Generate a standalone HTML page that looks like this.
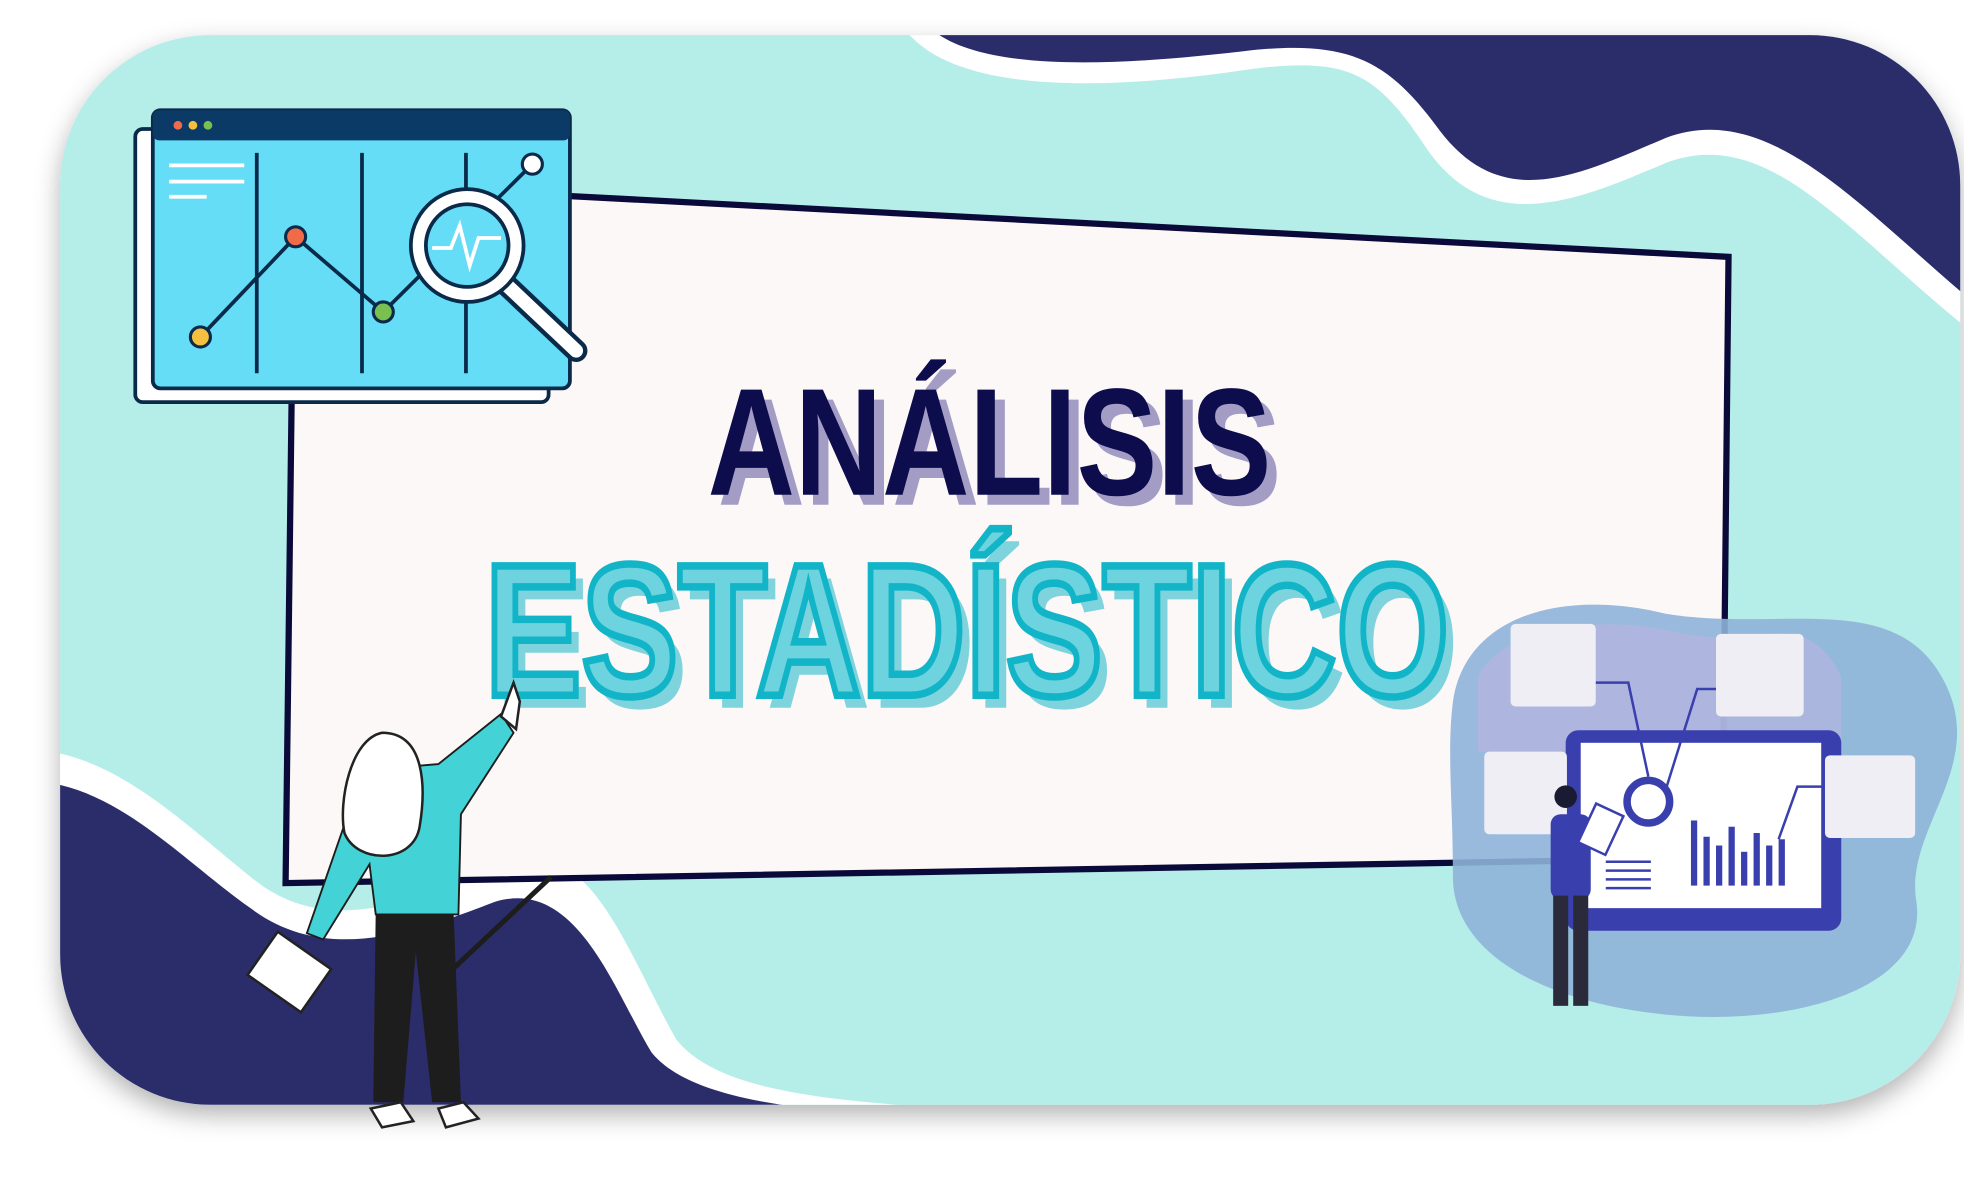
<!DOCTYPE html>
<html><head><meta charset="utf-8"><style>
html,body{margin:0;padding:0;background:#fff;width:1964px;height:1185px;overflow:hidden}
svg{display:block}
</style></head><body>
<svg width="1964" height="1185" viewBox="0 0 1568 946" xmlns="http://www.w3.org/2000/svg">
<defs>
<filter id="sh" x="-10%" y="-10%" width="120%" height="130%"><feDropShadow dx="0" dy="8" stdDeviation="10" flood-color="#000" flood-opacity="0.3"/></filter>
<clipPath id="card"><rect x="48" y="28" width="1517" height="854" rx="120"/></clipPath>
</defs>
<rect width="1568" height="946" fill="#fff"/>
<rect x="48" y="28" width="1517" height="854" rx="120" fill="#b5ede9" filter="url(#sh)"/>
<g clip-path="url(#card)">
<path d="M720,20 C760,80 900,70 1000,55 C1080,45 1100,60 1140,120 C1190,190 1260,160 1330,130 C1410,100 1470,180 1568,260 L1568,20 Z" fill="#fff"/>
<path d="M740,20 C780,60 900,52 1000,40 C1080,32 1110,50 1150,105 C1200,170 1260,140 1330,110 C1410,80 1480,160 1568,235 L1568,20 Z" fill="#2b2d6b"/>
<path d="M40,600 C100,610 150,660 200,700 C260,750 330,720 400,690 C470,660 500,760 540,830 C580,880 700,880 830,890 L40,890 Z" fill="#fff"/>
<path d="M40,625 C100,635 150,690 200,725 C260,770 330,745 395,720 C460,700 490,790 520,840 C560,890 700,890 830,895 L40,895 Z" fill="#2b2d6b"/>
</g>
<polygon points="235,145 1380,205 1375,685 228,705" fill="#fcf8f7" stroke="#0a0a3a" stroke-width="5"/>
<g font-family="Liberation Sans, sans-serif" font-weight="bold" text-anchor="middle">
<text x="798" y="403" font-size="122" fill="#a39cc5" textLength="450" lengthAdjust="spacingAndGlyphs">ANÁLISIS</text>
<text x="790" y="395" font-size="122" fill="#0d0d4d" textLength="450" lengthAdjust="spacingAndGlyphs">ANÁLISIS</text>
<text x="780" y="565" font-size="150" fill="#7fd3dd" textLength="770" lengthAdjust="spacingAndGlyphs">ESTADÍSTICO</text>
<text x="772" y="555" font-size="150" fill="#6dd3df" stroke="#12b5c8" stroke-width="6" textLength="770" lengthAdjust="spacingAndGlyphs">ESTADÍSTICO</text>
</g>
<!-- browser chart illustration -->
<g>
<rect x="108" y="103" width="330" height="218" rx="6" fill="#fff" stroke="#0a2a4a" stroke-width="3"/>
<rect x="122" y="88" width="333" height="222" rx="6" fill="#66ddf6" stroke="#0a2a4a" stroke-width="3"/>
<rect x="122" y="88" width="333" height="24" rx="5" fill="#0b3a66"/>
<circle cx="142" cy="100" r="3.5" fill="#f06b4a"/><circle cx="154" cy="100" r="3.5" fill="#f5c040"/><circle cx="166" cy="100" r="3.5" fill="#7ac050"/>
<g stroke="#fff" stroke-width="3"><line x1="135" y1="132" x2="195" y2="132"/><line x1="135" y1="145" x2="195" y2="145"/><line x1="135" y1="157" x2="165" y2="157"/></g>
<g stroke="#0a2a4a" stroke-width="3"><line x1="205" y1="122" x2="205" y2="298"/><line x1="289" y1="122" x2="289" y2="298"/><line x1="372" y1="122" x2="372" y2="298"/></g>
<polyline points="160,269 236,189 306,249 425,131" fill="none" stroke="#0a2a4a" stroke-width="3"/>
<circle cx="160" cy="269" r="8" fill="#f5c040" stroke="#0a2a4a" stroke-width="2.5"/>
<circle cx="236" cy="189" r="8" fill="#f06b4a" stroke="#0a2a4a" stroke-width="2.5"/>
<circle cx="306" cy="249" r="8" fill="#7ac050" stroke="#0a2a4a" stroke-width="2.5"/>
<circle cx="425" cy="131" r="8" fill="#fff" stroke="#0a2a4a" stroke-width="2.5"/>
<line x1="405" y1="228" x2="460" y2="280" stroke="#0a2a4a" stroke-width="18" stroke-linecap="round"/>
<line x1="405" y1="228" x2="460" y2="280" stroke="#fff" stroke-width="11" stroke-linecap="round"/>
<circle cx="373" cy="196" r="45" fill="#fff" stroke="#0a2a4a" stroke-width="3"/>
<circle cx="373" cy="196" r="33" fill="#66ddf6" stroke="#0a2a4a" stroke-width="3"/>
<polyline points="345,198 360,198 367,180 375,212 382,190 400,190" fill="none" stroke="#fff" stroke-width="3"/>
</g>
<!-- dashboard illustration -->
<g>
<path d="M1160,560 C1170,490 1250,470 1330,490 C1420,505 1510,470 1550,540 C1590,610 1520,660 1530,720 C1540,790 1430,820 1330,810 C1230,800 1160,760 1160,700 C1160,640 1155,600 1160,560 Z" fill="#8eb3d8" opacity="0.9"/>
<path d="M1180,540 C1200,500 1280,490 1340,505 C1400,520 1440,480 1470,540 L1470,600 L1180,600 Z" fill="#b7b5e0" opacity="0.7"/>
<rect x="1250" y="583" width="220" height="160" rx="10" fill="#3a3fae"/>
<rect x="1262" y="593" width="192" height="132" fill="#fff"/>
<circle cx="1316" cy="640" r="17" fill="none" stroke="#3a3fae" stroke-width="6"/>
<g fill="#3a3fae"><rect x="1350" y="655" width="5" height="52"/><rect x="1360" y="668" width="5" height="39"/><rect x="1370" y="675" width="5" height="32"/><rect x="1380" y="660" width="5" height="47"/><rect x="1390" y="680" width="5" height="27"/><rect x="1400" y="665" width="5" height="42"/><rect x="1410" y="675" width="5" height="32"/><rect x="1420" y="670" width="5" height="37"/></g>
<g stroke="#3a3fae" stroke-width="2"><line x1="1282" y1="688" x2="1318" y2="688"/><line x1="1282" y1="695" x2="1318" y2="695"/><line x1="1282" y1="702" x2="1318" y2="702"/><line x1="1282" y1="709" x2="1318" y2="709"/><polyline points="1270,545 1300,545 1316,620" fill="none"/><polyline points="1370,550 1355,550 1330,630" fill="none"/><polyline points="1458,628 1435,628 1420,670" fill="none"/></g>
<rect x="1206" y="498" width="68" height="66" rx="4" fill="#eeeef4"/>
<rect x="1370" y="506" width="70" height="66" rx="4" fill="#eeeef4"/>
<rect x="1185" y="600" width="66" height="66" rx="4" fill="#eeeef4"/>
<rect x="1457" y="603" width="72" height="66" rx="4" fill="#eeeef4"/>
<circle cx="1250" cy="636" r="9" fill="#1a1a33"/>
<rect x="1238" y="650" width="32" height="68" rx="8" fill="#3a3fae"/>
<rect x="1240" y="715" width="12" height="88" fill="#2a2a3a"/><rect x="1256" y="715" width="12" height="88" fill="#2a2a3a"/>
<rect x="1266" y="645" width="24" height="34" fill="#fff" stroke="#3a3fae" stroke-width="2" transform="rotate(25 1278 662)"/>
</g>
<!-- woman -->
<g>
<path d="M300,725 L298,880 L322,880 L332,760 L345,880 L368,880 L362,725 Z" fill="#1d1d1d"/>
<path d="M296,885 L320,880 L330,895 L305,900 Z M350,885 L370,880 L382,893 L356,900 Z" fill="#fff" stroke="#222" stroke-width="2"/>
<path d="M290,615 L350,610 L400,570 L410,585 L368,650 L366,730 L300,730 L295,690 L258,750 L245,745 Z" fill="#43d3d6" stroke="#1d1d1d" stroke-width="1.5"/>
<path d="M400,572 L410,545 L415,560 L412,582 Z" fill="#fff" stroke="#222" stroke-width="2"/>
<path d="M305,585 C280,590 270,640 275,665 C285,690 330,690 335,660 C340,630 340,585 305,585 Z" fill="#fff" stroke="#222" stroke-width="2"/>
<rect x="205" y="755" width="52" height="42" fill="#fff" stroke="#222" stroke-width="2" transform="rotate(35 231 776)"/>
</g>
<line x1="440" y1="700" x2="360" y2="775" stroke="#1d1d1d" stroke-width="4"/>
</svg>
</body></html>
